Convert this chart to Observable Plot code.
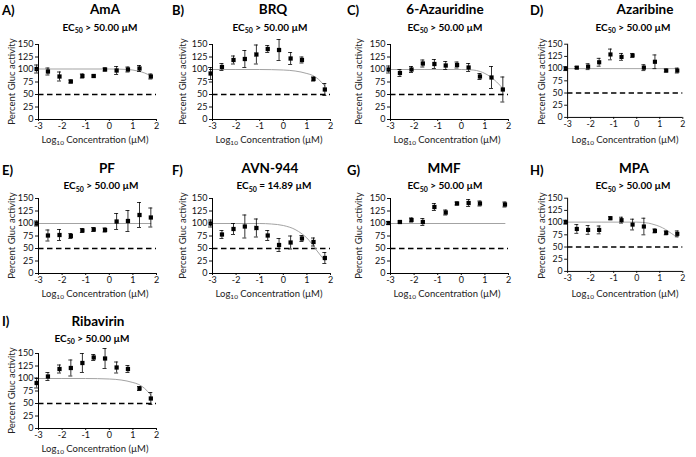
<!DOCTYPE html>
<html><head><meta charset="utf-8">
<script src="https://cdn.jsdelivr.net/npm/d3@7"></script>
<script src="https://cdn.jsdelivr.net/npm/@observablehq/plot@0.6"></script>
<style>
body{margin:0;background:#fff;}
#root{position:relative;width:696px;height:457px;overflow:hidden;font-family:Lato,sans-serif;background:#fff;}
.panel{position:absolute;}
.panel svg{overflow:visible;}
#overlay{position:absolute;left:0;top:0;pointer-events:none;}
</style></head><body><div id="root"></div>
<script>
// ---------- data ----------
const logConc    = [-3.08, -2.6, -2.11, -1.63, -1.14, -0.66, -0.18, 0.31, 0.79, 1.28, 1.76];
const logConcMMF = [-3.08, -2.6, -2.11, -1.63, -1.14, -0.66, -0.18, 0.31, 0.79, 1.85];
const xTicks = [-3, -2, -1, 0, 1, 2];
const yTicks = [0, 25, 50, 75, 100, 125, 150];

const letters = ["A)", "B)", "C)", "D)", "E)", "F)", "G)", "H)", "I)"];
const names = ["AmA", "BRQ", "6-Azauridine", "Azaribine", "PF", "AVN-944", "MMF", "MPA", "Ribavirin"];
const ec50Ops = [">", ">", ">", ">", ">", "=", ">", ">", ">"];
const ec50Vals = ["50.00", "50.00", "50.00", "50.00", "50.00", "14.89", "50.00", "50.00", "50.00"];

const meanAmA = [101, 96, 86, 76, 87, 87, 100, 98, 100, 102, 86];
const errAmA  = [8, 7, 9, 3, 4, 2, 3, 8, 5, 6, 5];
const meanBRQ = [92, 105, 119, 121, 130, 141, 139, 122, 119, 81, 60];
const errBRQ  = [12, 7, 8, 17, 19, 7, 21, 12, 6, 4, 12];
const meanAza6 = [100, 93, 100, 112, 111, 108, 109, 104, 86, 84, 60];
const errAza6  = [7, 7, 6, 7, 9, 8, 6, 8, 6, 22, 25];
const meanAzaribine = [100, 102, 104, 113, 129, 124, 127, 102, 114, 96, 96];
const errAzaribine  = [4, 2, 6, 8, 11, 7, 4, 6, 14, 3, 5];
const meanPF = [100, 76, 77, 75, 86, 88, 87, 104, 105, 117, 112];
const errPF  = [5, 11, 11, 5, 4, 4, 4, 16, 21, 25, 19];
const meanAVN = [100, 78, 89, 94, 91, 76, 57, 62, 70, 63, 31];
const errAVN  = [7, 8, 11, 23, 18, 10, 13, 13, 6, 8, 11];
const meanMMF = [101, 103, 107, 103, 133, 122, 140, 141, 140, 138];
const errMMF  = [3, 2, 4, 7, 7, 5, 3, 7, 5, 5];
const meanMPA = [101, 87, 85, 85, 109, 105, 96, 92, 83, 79, 77];
const errMPA  = [4, 9, 9, 8, 3, 6, 11, 17, 4, 4, 6];
const meanRiba = [91, 104, 119, 121, 131, 142, 140, 122, 119, 80, 60];
const errRiba  = [10, 8, 8, 16, 19, 6, 20, 11, 7, 4, 12];

// fitted curves
const curveXAmA = [-3.08, 0, 0.8, 1.2, 1.5, 1.76];
const curveYAmA = [101, 101, 100, 97, 93, 87];
const curveXBRQ = [-3.08, -1, 0, 0.5, 1, 1.25, 1.5, 1.76];
const curveYBRQ = [100, 100, 99, 97, 92, 88, 80, 67];
const curveXAza6 = [-3.08, 0, 0.5, 0.8, 1, 1.25, 1.5, 1.76];
const curveYAza6 = [100, 100, 99, 96, 92, 85, 75, 62];
const curveXFlat = [-3.08, 1.76];
const curveYFlat = [100, 100];
const curveXMMF = [-3.08, 1.85];
const curveYMMF = [100, 100];
const curveXAVN = [-3.08, -1, -0.5, 0, 0.5, 0.8, 1, 1.2, 1.4, 1.6, 1.76];
const curveYAVN = [100, 100, 99, 96, 88, 79, 71, 60, 47, 35, 26];
const curveXMPA = [-3.08, 0, 0.5, 0.75, 1, 1.25, 1.5, 1.76];
const curveYMPA = [101, 101, 99, 96, 92, 86, 78, 70];

const series = [
  {x: logConc, mean: meanAmA, err: errAmA, cx: curveXAmA, cy: curveYAmA},
  {x: logConc, mean: meanBRQ, err: errBRQ, cx: curveXBRQ, cy: curveYBRQ},
  {x: logConc, mean: meanAza6, err: errAza6, cx: curveXAza6, cy: curveYAza6},
  {x: logConc, mean: meanAzaribine, err: errAzaribine, cx: curveXFlat, cy: curveYFlat},
  {x: logConc, mean: meanPF, err: errPF, cx: curveXFlat, cy: curveYFlat},
  {x: logConc, mean: meanAVN, err: errAVN, cx: curveXAVN, cy: curveYAVN},
  {x: logConcMMF, mean: meanMMF, err: errMMF, cx: curveXMMF, cy: curveYMMF},
  {x: logConc, mean: meanMPA, err: errMPA, cx: curveXMPA, cy: curveYMPA},
  {x: logConc, mean: meanRiba, err: errRiba, cx: curveXBRQ, cy: curveYBRQ}
];

// ---------- layout ----------
const colAxisX = [38, 212, 390, 568];
const rowTop = [44, 198, 353];
const plotW = 118, plotH = 75;
const letterX = [2, 172, 347, 530];
const letterBase = [15, 175, 326];
const titleBase = [14, 173, 325.5];
const subBase = [30.5, 189, 341.5];
const titleCX = [105, 273, 445, 645, 107, 270, 444, 634, 98];
const subCX = [100, 270, 445, 633, 101, 274, 445, 633, 92];
const yTitleX = [13, 184, 360, 543];

const root = document.getElementById("root");
const mL = 38, mR = 14, mT = 12, mB = 20;
const capHalf = 0.085;

series.forEach((s, i) => {
  const col = i % 4, row = Math.floor(i / 4);
  const pts = s.x.map((x, k) => ({x, y: s.mean[k], e: s.err[k]}));
  const curve = s.cx.map((x, k) => ({x, y: s.cy[k]}));
  const chart = Plot.plot({
    width: mL + plotW + mR, height: mT + plotH + mB,
    marginLeft: mL, marginRight: mR, marginTop: mT, marginBottom: mB,
    style: {fontFamily: "Lato, sans-serif", fontSize: "9px", color: "#111", background: "transparent", overflow: "visible"},
    x: {domain: [-3, 2], label: null},
    y: {domain: [0, 150], label: null},
    marks: [
      Plot.ruleY([50], {stroke: "#000", strokeWidth: 1.4, strokeDasharray: "5.5,3.5"}),
      Plot.line(curve, {x: "x", y: "y", stroke: "#a3a3a3", strokeWidth: 1, curve: "monotone-x"}),
      Plot.ruleX(pts, {x: "x", y1: d => d.y - d.e, y2: d => d.y + d.e, stroke: "#000", strokeWidth: 0.8}),
      Plot.ruleY(pts, {y: d => d.y + d.e, x1: d => d.x - capHalf, x2: d => d.x + capHalf, stroke: "#000", strokeWidth: 0.8}),
      Plot.ruleY(pts, {y: d => d.y - d.e, x1: d => d.x - capHalf, x2: d => d.x + capHalf, stroke: "#000", strokeWidth: 0.8}),
      Plot.dot(pts, {x: "x", y: "y", symbol: "square", r: 2.4, fill: "#000", stroke: "none"}),
      Plot.axisX({ticks: xTicks, tickSize: 2, tickPadding: 1, tickFormat: d => d < 0 ? "-" + (-d) : String(d), label: null}),
      Plot.axisY({ticks: yTicks, tickSize: 3, tickPadding: 2, label: null}),
      Plot.ruleX([-3], {stroke: "#000", strokeWidth: 1}),
      Plot.ruleY([0], {stroke: "#000", strokeWidth: 1})
    ]
  });
  const div = document.createElement("div");
  div.className = "panel";
  div.style.left = (colAxisX[col] - mL) + "px";
  div.style.top = (rowTop[row] - mT) + "px";
  div.appendChild(chart);
  root.appendChild(div);
});

// ---------- text overlay ----------
const svg = d3.select("#root").append("svg").attr("id", "overlay")
  .attr("width", 696).attr("height", 457)
  .style("font-family", "Lato, sans-serif").style("fill", "#000");

series.forEach((s, i) => {
  const col = i % 4, row = Math.floor(i / 4);
  svg.append("text").attr("x", letterX[col]).attr("y", letterBase[row])
    .attr("font-size", 13).attr("font-weight", 700).text(letters[i]);
  svg.append("text").attr("x", titleCX[i]).attr("y", titleBase[row])
    .attr("text-anchor", "middle").attr("font-size", 13.5).attr("font-weight", 700).text(names[i]);
  const st = svg.append("text").attr("x", subCX[i]).attr("y", subBase[row])
    .attr("text-anchor", "middle").attr("font-size", 10).attr("font-weight", 700);
  st.append("tspan").text("EC");
  st.append("tspan").attr("font-size", 7).attr("dy", 2.5).text("50");
  st.append("tspan").attr("dy", -2.5).text(" " + ec50Ops[i] + " " + ec50Vals[i] + " µM");
  const yc = rowTop[row] + plotH / 2;
  svg.append("text").attr("transform", `translate(${yTitleX[col]},${yc}) rotate(-90)`)
    .attr("text-anchor", "middle").attr("dominant-baseline", "middle")
    .attr("font-size", 9.5).attr("fill", "#222").text("Percent Gluc activity");
  const xt = svg.append("text").attr("x", colAxisX[col] + 57).attr("y", rowTop[row] + plotH + 23.5)
    .attr("text-anchor", "middle").attr("font-size", 9.5).attr("fill", "#222");
  xt.append("tspan").text("Log");
  xt.append("tspan").attr("font-size", 6.5).attr("dy", 2).text("10");
  xt.append("tspan").attr("dy", -2).text(" Concentration (µM)");
});
</script></body></html>
